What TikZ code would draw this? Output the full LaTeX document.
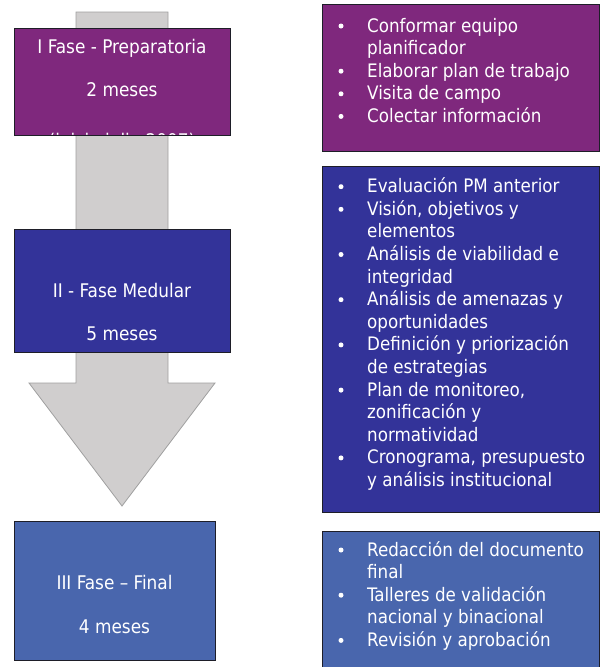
\documentclass[tikz,border=0pt]{standalone}
\usepackage{fontspec}
\setmainfont{DejaVu Sans Condensed}
\definecolor{purp}{RGB}{127,40,125}
\definecolor{dblue}{RGB}{51,51,153}
\definecolor{lblue}{RGB}{73,102,173}
\definecolor{arrfill}{RGB}{208,206,206}
\definecolor{arrline}{RGB}{160,160,160}
\definecolor{edge}{RGB}{30,30,40}
\tikzset{
  box/.style={draw=edge, line width=1pt, rectangle, inner sep=0pt},
  ttl/.style={text=white, inner sep=0pt, anchor=base, font=\fontsize{18.8}{22}\selectfont},
  itm/.style={text=white, inner sep=0pt, anchor=base west, font=\fontsize{18.6}{22}\selectfont},
  bul/.style={circle, fill=white, inner sep=0pt, minimum size=5pt}
}
\begin{document}
\begin{tikzpicture}[x=1pt,y=-1pt]
\clip (0,0) rectangle (602,667);
% big arrow
\draw[fill=arrfill, draw=arrline, line width=0.8pt]
  (76,12) -- (168,12) -- (168,383) -- (215,383) -- (122,506) -- (29,383) -- (76,383) -- cycle;
% left boxes
\node[box, fill=purp, minimum width=216pt, minimum height=107pt] (p1) at (122,81.5) {};
\node[box, fill=dblue, minimum width=216pt, minimum height=123pt] (p2) at (122,290.5) {};
\node[box, fill=lblue, minimum width=201pt, minimum height=139pt] (p3) at (114.5,590.5) {};
% right boxes
\node[box, fill=purp, minimum width=277pt, minimum height=147pt] (r1) at (461,77.5) {};
\node[box, fill=dblue, minimum width=277pt, minimum height=346pt] (r2) at (461,339) {};
\node[box, fill=lblue, minimum width=277pt, minimum height=150pt] (r3) at (461,606) {};
% left texts
\begin{scope}
\clip (14,28) rectangle (230,134.5);
\node[ttl] (t1a) at (122,53.3) {I Fase - Preparatoria};
\node[ttl] (t1b) at (122,96.7) {2 meses};
\node[ttl] (t1c) at (122,147) {(inicio julio 2007)};
\end{scope}
\node[ttl] (t2a) at (122,297.3) {II - Fase Medular};
\node[ttl] (t2b) at (122,340.7) {5 meses};
\node[ttl] (t3a) at (114.5,589.5) {III Fase – Final};
\node[ttl] (t3b) at (114.5,633) {4 meses};
% right box 1
\node[itm] (a1) at (367,32) {Conformar equipo};
\node[itm] (a2) at (367,54.6) {planificador};
\node[itm] (a3) at (367,77.2) {Elaborar plan de trabajo};
\node[itm] (a4) at (367,99.8) {Visita de campo};
\node[itm] (a5) at (367,122.4) {Colectar información};
\node[bul] (ba1) at (341,26) {};
\node[bul] (ba3) at (341,71.2) {};
\node[bul] (ba4) at (341,93.8) {};
\node[bul] (ba5) at (341,116.4) {};
% right box 2
\node[itm] (c1) at (367,192.7) {Evaluación PM anterior};
\node[itm] (c2) at (367,215.3) {Visión, objetivos y};
\node[itm] (c3) at (367,237.9) {elementos};
\node[itm] (c4) at (367,260.5) {Análisis de viabilidad e};
\node[itm] (c5) at (367,283.1) {integridad};
\node[itm] (c6) at (367,305.7) {Análisis de amenazas y};
\node[itm] (c7) at (367,328.3) {oportunidades};
\node[itm] (c8) at (367,350.9) {Definición y priorización};
\node[itm] (c9) at (367,373.5) {de estrategias};
\node[itm] (c10) at (367,396.1) {Plan de monitoreo,};
\node[itm] (c11) at (367,418.7) {zonificación y};
\node[itm] (c12) at (367,441.3) {normatividad};
\node[itm] (c13) at (367,463.9) {Cronograma, presupuesto};
\node[itm] (c14) at (367,486.5) {y análisis institucional};
\node[bul] (bc1) at (341,186.7) {};
\node[bul] (bc2) at (341,209.3) {};
\node[bul] (bc4) at (341,254.5) {};
\node[bul] (bc6) at (341,299.7) {};
\node[bul] (bc8) at (341,344.9) {};
\node[bul] (bc10) at (341,390.1) {};
\node[bul] (bc13) at (341,457.9) {};
% right box 3
\node[itm] (e1) at (367,556) {Redacción del documento};
\node[itm] (e2) at (367,578.6) {final};
\node[itm] (e3) at (367,601.2) {Talleres de validación};
\node[itm] (e4) at (367,623.8) {nacional y binacional};
\node[itm] (e5) at (367,646.4) {Revisión y aprobación};
\node[bul] (be1) at (341,550) {};
\node[bul] (be3) at (341,595.2) {};
\node[bul] (be5) at (341,640.4) {};
\end{tikzpicture}
\end{document}
